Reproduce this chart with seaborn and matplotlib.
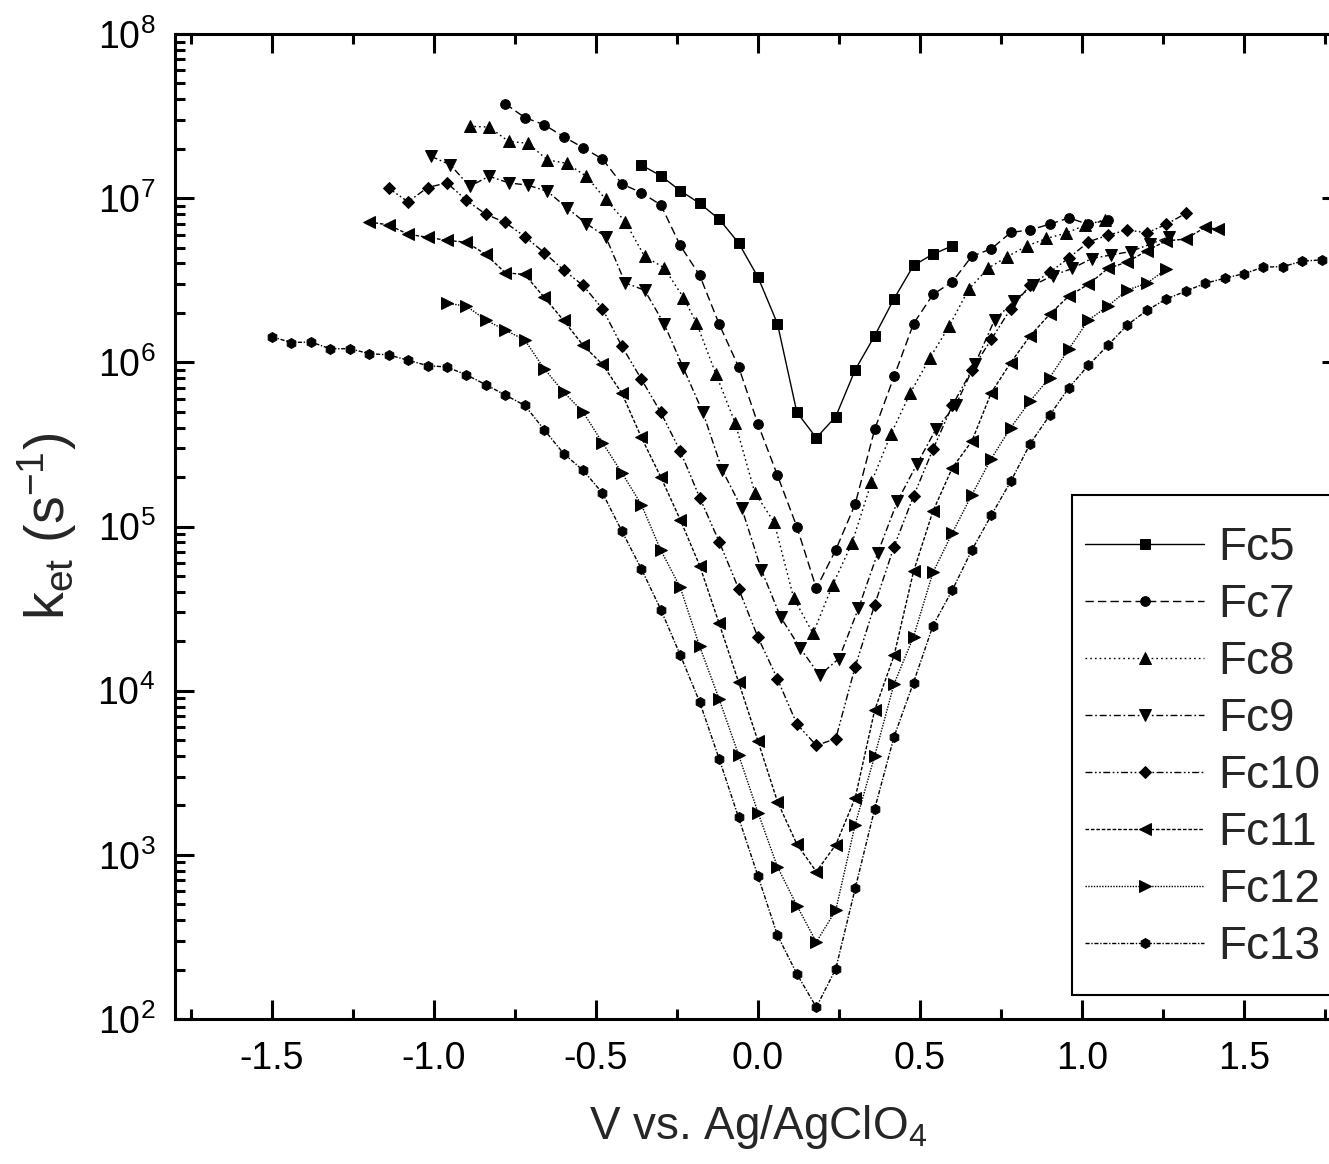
import numpy as np
import pandas as pd
import matplotlib
matplotlib.use("Agg")
import matplotlib.pyplot as plt
from matplotlib.patches import Rectangle
from matplotlib.ticker import MultipleLocator, FormatStrFormatter, LogLocator, NullFormatter
import seaborn as sns

# Electron-transfer rate constants vs. electrode potential for FcCn monolayers
fc5_v = [-0.36, -0.30, -0.24, -0.18, -0.12, -0.06, 0.00, 0.06, 0.12, 0.18, 0.24, 0.30,
         0.36, 0.42, 0.48, 0.54, 0.60]
fc5_k = [1.59e7, 1.37e7, 1.11e7, 9.3e6, 7.45e6, 5.34e6, 3.30e6, 1.72e6, 4.96e5, 3.47e5,
         4.67e5, 9.0e5, 1.45e6, 2.44e6, 3.89e6, 4.56e6, 5.12e6]

fc7_v = [-0.78, -0.72, -0.66, -0.60, -0.54, -0.48, -0.42, -0.36, -0.30, -0.24, -0.18, -0.12,
         -0.06, 0.00, 0.06, 0.12, 0.18, 0.24, 0.30, 0.36, 0.42, 0.48, 0.54, 0.60, 0.66, 0.72,
         0.78, 0.84, 0.90, 0.96, 1.02, 1.08]
fc7_k = [3.76e7, 3.10e7, 2.80e7, 2.37e7, 2.03e7, 1.73e7, 1.22e7, 1.08e7, 9.1e6, 5.15e6,
         3.39e6, 1.71e6, 9.4e5, 4.2e5, 2.05e5, 9.95e4, 4.2e4, 7.2e4, 1.37e5, 3.9e5, 8.2e5,
         1.72e6, 2.59e6, 3.1e6, 4.43e6, 4.91e6, 6.18e6, 6.41e6, 6.94e6, 7.58e6, 6.92e6, 7.38e6]

fc8_v = [-0.89, -0.83, -0.77, -0.71, -0.65, -0.59, -0.53, -0.47, -0.41, -0.35, -0.29, -0.23,
         -0.19, -0.13, -0.07, -0.01, 0.05, 0.11, 0.17, 0.23, 0.29, 0.35, 0.41, 0.47, 0.53,
         0.59, 0.65, 0.71, 0.77, 0.83, 0.89, 0.95, 1.01, 1.07]
fc8_k = [2.74e7, 2.71e7, 2.22e7, 2.16e7, 1.71e7, 1.63e7, 1.36e7, 9.84e6, 7.19e6, 4.42e6,
         3.77e6, 2.48e6, 1.74e6, 8.5e5, 4.25e5, 1.61e5, 1.06e5, 3.67e4, 2.23e4, 4.39e4,
         7.9e4, 1.86e5, 3.64e5, 6.5e5, 1.06e6, 1.66e6, 2.78e6, 3.74e6, 4.41e6, 5.12e6,
         5.68e6, 6.12e6, 6.84e6, 7.38e6]

fc9_v = [-1.01, -0.95, -0.89, -0.83, -0.77, -0.71, -0.65, -0.59, -0.53, -0.47, -0.41, -0.35,
         -0.29, -0.23, -0.17, -0.11, -0.05, 0.01, 0.07, 0.13, 0.19, 0.25, 0.31, 0.37, 0.43,
         0.49, 0.55, 0.61, 0.67, 0.73, 0.79, 0.85, 0.91, 0.97, 1.03, 1.09, 1.15, 1.21, 1.27]
fc9_k = [1.80e7, 1.60e7, 1.18e7, 1.36e7, 1.24e7, 1.20e7, 1.10e7, 8.75e6, 7.0e6, 5.83e6,
         3.05e6, 2.75e6, 1.72e6, 9.2e5, 4.95e5, 2.20e5, 1.29e5, 5.47e4, 2.80e4, 1.82e4,
         1.24e4, 1.57e4, 3.17e4, 6.94e4, 1.42e5, 2.39e5, 3.94e5, 5.47e5, 9.8e5, 1.81e6,
         2.36e6, 2.95e6, 3.38e6, 3.73e6, 4.29e6, 4.51e6, 4.73e6, 5.24e6, 5.84e6]

fc10_v = [-1.14, -1.08, -1.02, -0.96, -0.90, -0.84, -0.78, -0.72, -0.66, -0.60, -0.54, -0.48,
          -0.42, -0.36, -0.30, -0.24, -0.18, -0.12, -0.06, 0.00, 0.06, 0.12, 0.18, 0.24, 0.30,
          0.36, 0.42, 0.48, 0.54, 0.60, 0.66, 0.72, 0.78, 0.84, 0.90, 0.96, 1.02, 1.08, 1.14,
          1.20, 1.26, 1.32]
fc10_k = [1.15e7, 9.5e6, 1.16e7, 1.24e7, 9.7e6, 7.98e6, 7.11e6, 5.84e6, 4.66e6, 3.65e6,
          2.94e6, 2.12e6, 1.25e6, 7.9e5, 4.95e5, 2.88e5, 1.50e5, 8.1e4, 4.19e4, 2.11e4,
          1.18e4, 6.26e3, 4.64e3, 5.1e3, 1.40e4, 3.33e4, 7.55e4, 1.53e5, 2.95e5, 5.47e5,
          8.97e5, 1.38e6, 2.12e6, 2.95e6, 3.53e6, 4.33e6, 5.42e6, 5.95e6, 6.41e6, 6.14e6,
          6.93e6, 8.07e6]

fc11_v = [-1.20, -1.14, -1.08, -1.02, -0.96, -0.90, -0.84, -0.78, -0.72, -0.66, -0.60, -0.54,
          -0.48, -0.42, -0.36, -0.30, -0.24, -0.18, -0.12, -0.06, 0.00, 0.06, 0.12, 0.18, 0.24,
          0.30, 0.36, 0.42, 0.48, 0.54, 0.60, 0.66, 0.72, 0.78, 0.84, 0.90, 0.96, 1.02, 1.08,
          1.14, 1.20, 1.26, 1.32, 1.38, 1.42]
fc11_k = [7.16e6, 6.87e6, 6.03e6, 5.78e6, 5.53e6, 5.39e6, 4.54e6, 3.51e6, 3.43e6, 2.49e6,
          1.80e6, 1.27e6, 9.72e5, 6.47e5, 3.49e5, 2.0e5, 1.10e5, 5.78e4, 2.57e4, 1.13e4,
          4.92e3, 2.11e3, 1.16e3, 7.9e2, 1.15e3, 2.22e3, 7.59e3, 1.64e4, 5.32e4, 1.24e5,
          2.28e5, 3.31e5, 6.53e5, 9.96e5, 1.45e6, 1.96e6, 2.54e6, 2.99e6, 3.73e6, 4.09e6,
          4.78e6, 5.50e6, 5.63e6, 6.65e6, 6.47e6]

fc12_v = [-0.96, -0.90, -0.84, -0.78, -0.72, -0.66, -0.60, -0.54, -0.48, -0.42, -0.36, -0.30,
          -0.24, -0.18, -0.12, -0.06, 0.00, 0.06, 0.12, 0.18, 0.24, 0.30, 0.36, 0.42, 0.48,
          0.54, 0.60, 0.66, 0.72, 0.78, 0.84, 0.90, 0.96, 1.02, 1.08, 1.14, 1.20, 1.26]
fc12_k = [2.29e6, 2.20e6, 1.81e6, 1.57e6, 1.37e6, 9.15e5, 6.59e5, 4.98e5, 3.24e5, 2.12e5,
          1.36e5, 7.17e4, 4.26e4, 1.86e4, 8.9e3, 4.07e3, 1.81e3, 8.45e2, 4.91e2, 2.94e2,
          4.60e2, 1.53e3, 4.0e3, 1.10e4, 2.13e4, 5.25e4, 9.15e4, 1.56e5, 2.59e5, 4.0e5,
          5.81e5, 8.07e5, 1.21e6, 1.81e6, 2.20e6, 2.76e6, 3.03e6, 3.69e6]

fc13_v = [-1.50, -1.44, -1.38, -1.32, -1.26, -1.20, -1.14, -1.08, -1.02, -0.96, -0.90, -0.84,
          -0.78, -0.72, -0.66, -0.60, -0.54, -0.48, -0.42, -0.36, -0.30, -0.24, -0.18, -0.12,
          -0.06, 0.00, 0.06, 0.12, 0.18, 0.24, 0.30, 0.36, 0.42, 0.48, 0.54, 0.60, 0.66, 0.72,
          0.78, 0.84, 0.90, 0.96, 1.02, 1.08, 1.14, 1.20, 1.26, 1.32, 1.38, 1.44, 1.50, 1.56,
          1.62, 1.68, 1.74]
fc13_k = [1.43e6, 1.32e6, 1.33e6, 1.21e6, 1.21e6, 1.13e6, 1.11e6, 1.03e6, 9.55e5, 9.36e5,
          8.39e5, 7.31e5, 6.32e5, 5.47e5, 3.89e5, 2.78e5, 2.20e5, 1.60e5, 9.36e4, 5.52e4,
          3.12e4, 1.65e4, 8.53e3, 3.85e3, 1.69e3, 7.41e2, 3.24e2, 1.88e2, 1.18e2, 2.02e2,
          6.24e2, 1.90e3, 5.25e3, 1.12e4, 2.49e4, 4.11e4, 7.18e4, 1.17e5, 1.88e5, 3.19e5,
          4.75e5, 7.02e5, 9.6e5, 1.27e6, 1.69e6, 2.07e6, 2.43e6, 2.71e6, 3.03e6, 3.25e6,
          3.47e6, 3.80e6, 3.83e6, 4.13e6, 4.21e6]

series = ["Fc5", "Fc7", "Fc8", "Fc9", "Fc10", "Fc11", "Fc12", "Fc13"]
potentials = [fc5_v, fc7_v, fc8_v, fc9_v, fc10_v, fc11_v, fc12_v, fc13_v]
rates = [fc5_k, fc7_k, fc8_k, fc9_k, fc10_k, fc11_k, fc12_k, fc13_k]

df = pd.concat(
    [pd.DataFrame({"V": v, "k": k, "compound": name})
     for name, v, k in zip(series, potentials, rates)],
    ignore_index=True,
)

markers = {"Fc5": "s", "Fc7": "o", "Fc8": "^", "Fc9": "v",
           "Fc10": "D", "Fc11": "<", "Fc12": ">", "Fc13": "h"}
marker_sizes = {"Fc5": 6.6, "Fc7": 7.0, "Fc8": 8.4, "Fc9": 8.4,
                "Fc10": 5.8, "Fc11": 8.4, "Fc12": 8.4, "Fc13": 7.2}
dashes = {"Fc5": "", "Fc7": (6, 3), "Fc8": (1.2, 2.2), "Fc9": (5, 2, 1.2, 2),
          "Fc10": (5, 1.8, 1.2, 1.8, 1.2, 1.8), "Fc11": (2.6, 1.3),
          "Fc12": (1.0, 1.0), "Fc13": (3, 1.2, 1.0, 1.2)}

sns.set_theme(style="ticks")
plt.rcParams.update({
    "font.family": ["Liberation Sans", "DejaVu Sans"],
    "mathtext.fontset": "custom",
    "mathtext.rm": "Liberation Sans",
    "mathtext.it": "Liberation Sans:italic",
    "mathtext.bf": "Liberation Sans:bold",
    "mathtext.default": "regular",
    "axes.unicode_minus": False,
})

W, H = 1329, 1164
fig = plt.figure(figsize=(W / 100, H / 100), dpi=100)
ax = fig.add_axes([174.8 / W, 1 - 1019 / H, 1166.4 / W, 985 / H])

sns.lineplot(data=df, x="V", y="k", hue="compound", style="compound",
             hue_order=series, style_order=series, palette=["black"] * len(series),
             markers=markers, dashes=dashes, estimator=None, sort=False,
             linewidth=1.0, markeredgewidth=0.7, markeredgecolor="black",
             legend=False, ax=ax)

lines = ax.get_lines()
for line, name in zip(lines, series):
    line.set_markersize(marker_sizes[name])

ax.set_yscale("log")
ax.set_xlim(-1.8, 1.8)
ax.set_ylim(1e2, 1e8)
ax.xaxis.set_major_locator(MultipleLocator(0.5))
ax.xaxis.set_minor_locator(MultipleLocator(0.25))
ax.xaxis.set_major_formatter(FormatStrFormatter("%.1f"))
ax.yaxis.set_major_locator(LogLocator(base=10, numticks=20))
ax.yaxis.set_minor_locator(LogLocator(base=10, subs=np.arange(2, 10), numticks=100))
ax.yaxis.set_minor_formatter(NullFormatter())

ax.tick_params(which="both", direction="in", bottom=True, left=True, top=True, right=True,
               width=2.2, color="black", labelcolor="black", labelsize=27)
ax.tick_params(which="major", length=13.5)
ax.tick_params(which="minor", length=7.5)
ax.tick_params(axis="x", which="major", pad=16)
ax.tick_params(axis="y", which="major", pad=14)
for sp in ax.spines.values():
    sp.set_visible(True)
    sp.set_linewidth(2.2)
    sp.set_color("black")
ax.grid(False)

ax.set_xlabel("V vs. Ag/AgClO$_4$", fontsize=33)
ax.set_ylabel("k$_{et}$ (s$^{-1}$)", fontsize=40)
ax.xaxis.set_label_coords(0.5, -0.085)
ax.yaxis.set_label_coords(-0.082, 0.5)

# Origin-style legend box (white, so it hides the right-hand ticks behind it)
fig.add_artist(Rectangle((1072 / W, 1 - 995 / H), 280 / W, 500 / H,
                         transform=fig.transFigure, facecolor="white",
                         edgecolor="black", linewidth=1.5, zorder=4))
leg = fig.legend(lines, series, loc="upper left",
                 bbox_to_anchor=(1085 / W, 1 - 526 / H), bbox_transform=fig.transFigure,
                 frameon=False, fontsize=33, handlelength=2.6, handletextpad=0.3,
                 labelspacing=0.285, borderpad=0, borderaxespad=0, numpoints=1)
leg.set_zorder(5)
for h in leg.legend_handles:
    h.set_linewidth(1.0)

fig.savefig("out.png", dpi=100)
